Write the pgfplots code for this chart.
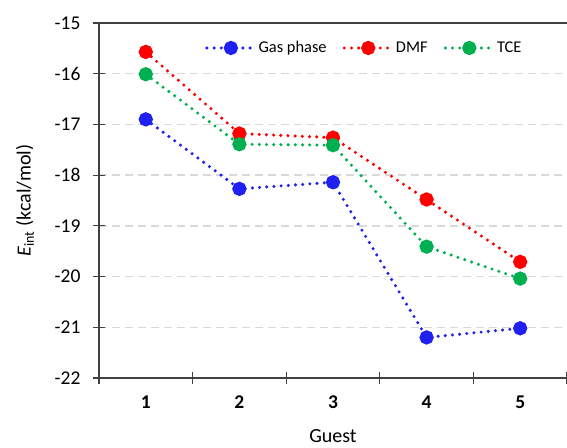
\documentclass[border=0pt]{standalone}
\usepackage{fontspec}
\setmainfont{Carlito}
\usepackage{pgfplots}
\pgfplotsset{compat=1.18}
\definecolor{gridc}{HTML}{D9D9D9}
\definecolor{axc}{HTML}{404040}
\definecolor{cblue}{HTML}{2020F0}
\definecolor{cred}{HTML}{FF0000}
\definecolor{cgreen}{HTML}{00B050}
\begin{document}
\begin{tikzpicture}
\begin{axis}[
  scale only axis,
  width=468pt, height=355pt,
  xmin=0.5, xmax=5.5,
  ymin=-22, ymax=-15,
  axis x line*=bottom,
  axis y line*=left,
  axis line style={axc, line width=1.2pt, -},
  xtick={0.5,1.5,...,5.5},
  xticklabels={},
  extra x ticks={1,2,3,4,5},
  extra x tick labels={\textbf{1},\textbf{2},\textbf{3},\textbf{4},\textbf{5}},
  extra x tick style={major tick length=0pt, grid=none},
  ytick={-22,-21,...,-15},
  tick align=center,
  major tick length=12pt,
  tick style={axc, line width=1.2pt},
  ymajorgrids,
  grid style={gridc, line width=1.5pt, dash pattern=on 8pt off 5pt},
  /pgf/number format/assume math mode=true,
  ticklabel style={font=\fontsize{19.5}{23}\selectfont},
  yticklabel style={xshift=-9pt},
  xticklabel style={yshift=-14pt},
  xlabel={Guest},
  ylabel={\textit{E}\textsubscript{int} (kcal/mol)},
  every axis x label/.style={at={(rel axis cs:0.5,0)}, anchor=center, yshift=-58pt, font=\fontsize{20}{24}\selectfont},
  every axis y label/.style={at={(rel axis cs:0,0.5)}, xshift=-74pt, anchor=center, rotate=90, font=\fontsize{20}{24}\selectfont},
  legend style={draw=none, fill=none, inner sep=0pt, at={(0.2265,0.9296)}, anchor=west,
    legend columns=3, font=\fontsize{16.4}{19}\selectfont,
    /tikz/every even column/.append style={column sep=14pt}},
  legend image code/.code={\draw[mark repeat=2,mark phase=2,#1] plot coordinates {(0pt,0pt) (24pt,0pt) (48pt,0pt)};},
  every axis plot/.append style={line width=3.4pt, dash pattern=on 0pt off 7.2pt, line cap=round, mark=*, mark size=5.4pt, mark options={solid}},
]
\addplot[cblue, mark options={fill=cblue, draw=cblue, solid}] coordinates {(1,-16.90) (2,-18.27) (3,-18.14) (4,-21.20) (5,-21.02)};
\addlegendentry{Gas phase}
\addplot[cred, mark options={fill=cred, draw=cred, solid}] coordinates {(1,-15.57) (2,-17.18) (3,-17.26) (4,-18.48) (5,-19.71)};
\addlegendentry{DMF}
\addplot[cgreen, mark options={fill=cgreen, draw=cgreen, solid}] coordinates {(1,-16.01) (2,-17.39) (3,-17.41) (4,-19.41) (5,-20.04)};
\addlegendentry{TCE}
\draw[axc, line width=1.2pt] (rel axis cs:0,1) -- (rel axis cs:1,1);
\coordinate (bl) at (rel axis cs:0,0);
\coordinate (tr) at (rel axis cs:1,1);
\end{axis}
\pgfresetboundingbox
\path[use as bounding box] ([xshift=-99pt,yshift=-69pt]bl) rectangle ([yshift=23pt]tr);
\end{tikzpicture}
\end{document}
